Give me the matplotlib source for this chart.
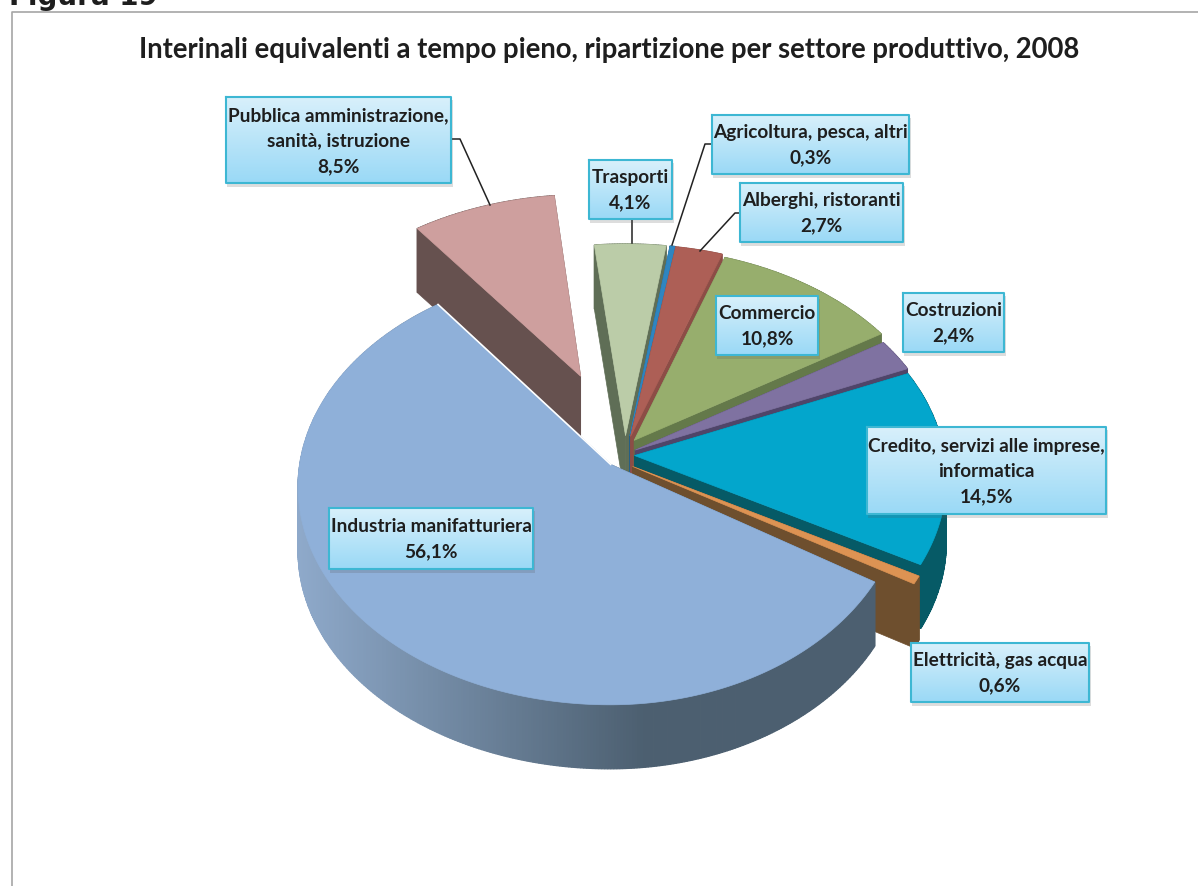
import numpy as np
import matplotlib
matplotlib.use("Agg")
import matplotlib.pyplot as plt
from matplotlib.colors import to_rgb, LinearSegmentedColormap

# Data, clockwise from the top left slice
categories = ["Pubblica amministrazione,\nsanità, istruzione", "Trasporti", "Agricoltura, pesca, altri",
              "Alberghi, ristoranti", "Commercio", "Costruzioni",
              "Credito, servizi alle imprese,\ninformatica", "Elettricità, gas acqua",
              "Industria manifatturiera"]
values = [8.5, 4.1, 0.3, 2.7, 10.8, 2.4, 14.5, 0.6, 56.1]
top_colors = ["#CE9F9E", "#BBCCA8", "#2F85C0", "#AD5F56", "#97AE6D", "#7F72A1", "#03A6CC", "#DD9353", "#8FB0D9"]
side_colors = ["#66514F", "#5F6E56", "#1F5F8C", "#8C4D46", "#64794A", "#4F4569", "#065A66", "#6E4F2E", "#4C5F70"]
title = "Interinali equivalenti a tempo pieno, ripartizione per settore produttivo, 2008"

# Pie geometry in picture pixels
cx, cy = 625, 457
rx, ry = 310, 215
persp = 0.1
depth = 64
start_angle = -37
explode = [0.42, 0.10, 0.10, 0.10, 0.10, 0.07, 0.05, 0.05, 0.04]
nudge_x = [2, 0, 0, -2, -10, -9, -6, -6, -6]
nudge_y = [0, 0, 0, 0, 0, 0, -2, 4, 1]
right_scale = [1, 1, 1, 1, 1, 1, 1, 1, 0.94]

# Label boxes: x0, y0, x1, y1
boxes = [(226, 97, 451, 183), (589, 160, 672, 219), (712, 115, 909, 174),
         (740, 183, 903, 242), (716, 296, 818, 355), (903, 293, 1004, 352),
         (867, 427, 1106, 514), (911, 643, 1089, 702), (329, 508, 533, 569)]
leaders = [([451, 460, 490], [139, 139, 205]), ([632, 632], [220, 243]),
           ([712, 705, 672], [144, 144, 245]), ([740, 735, 700], [213, 213, 251])]


def project(u, v):
    # disk coordinates to screen, the back of the pie is a bit smaller
    s = 1 + persp * v
    return rx * u / s, cy - ry * v / s


fig = plt.figure(figsize=(11.98, 8.86), dpi=100)
ax = fig.add_axes([0, 0, 1, 1])
ax.axis("off")

# Slices, painted from the back to the front
angle = start_angle
for i, val in enumerate(values):
    sweep = val * 3.6
    th = np.radians(np.linspace(angle, angle + sweep, max(int(sweep * 2), 6)))
    mid = np.radians(angle + sweep / 2)
    ou, ov = explode[i] * np.sin(mid), explode[i] * np.cos(mid)
    ax_, ay_ = project(ou, ov)
    xs, ys = project(ou + np.sin(th), ov + np.cos(th))
    xs = np.where(xs > 0, xs * right_scale[i], xs) + cx + nudge_x[i]
    ys = ys + nudge_y[i]
    ax_ = ax_ + cx + nudge_x[i]
    ay_ = ay_ + nudge_y[i]

    # radial walls
    for x_end, y_end in [(xs[0], ys[0]), (xs[-1], ys[-1])]:
        ax.fill([ax_, x_end, x_end, ax_], [ay_, y_end, y_end + depth, ay_ + depth],
                color=side_colors[i], lw=0.5, zorder=i * 3 + 1)

    # outer wall, the big slice gets the light to dark shading
    for j in range(len(xs) - 1):
        col = side_colors[i]
        if i == len(values) - 1:
            t = np.clip((xs[j] - 295) / 350, 0, 1)
            col = tuple((1 - t) * np.array(to_rgb("#8FAACB")) + t * np.array(to_rgb(side_colors[i])))
        ax.fill([xs[j], xs[j + 1], xs[j + 1], xs[j]],
                [ys[j], ys[j + 1], ys[j + 1] + depth, ys[j] + depth],
                color=col, lw=0.9, zorder=i * 3 + 2)

    ax.fill(np.r_[ax_, xs], np.r_[ay_, ys], color=top_colors[i], lw=0.5, zorder=i * 3 + 3)
    if i == len(values) - 1:
        ax.plot([xs[-1], ax_], [ys[-1], ay_], color="white", lw=1.2, zorder=i * 3 + 3)
    angle += sweep

for lx, ly in leaders:
    ax.plot(lx, ly, color="#222222", lw=1.1, zorder=40)

# Label boxes with the pale blue gradient
cmap = LinearSegmentedColormap.from_list("box", ["#D8F0FB", "#9AD9F6"])
grad = np.linspace(0, 1, 64).reshape(-1, 1)
for (x0, y0, x1, y1), name, val in zip(boxes, categories, values):
    ax.fill([x0 + 1, x1 + 2, x1 + 2, x0 + 1], [y0 + 3, y0 + 3, y1 + 4, y1 + 4],
            color="#555555", alpha=0.2, lw=0, zorder=41)
    ax.imshow(grad, extent=(x0, x1, y1, y0), cmap=cmap, aspect="auto", zorder=42)
    ax.plot([x0, x1, x1, x0, x0], [y0, y0, y1, y1, y0], color="#3DB7D3", lw=1.5, zorder=43)
    txt = name + "\n" + f"{val:.1f}%".replace(".", ",")
    ax.text((x0 + x1) / 2, (y0 + y1) / 2 + 1, txt, ha="center", va="center", family="Lato",
            weight="bold", fontsize=13.7, color="#1E1E1E", linespacing=1.6, zorder=44)

ax.set_xlim(0, 1198)
ax.set_ylim(886, 0)

# Frame and titles
ax.plot([12, 12, 1198], [886, 12, 12], color="#A6A6A6", lw=1.2, zorder=1)
ax.text(609, 50, title, ha="center", va="center", family="Lato", weight="bold", fontsize=19.8, color="#1E1E1E")
ax.text(9, 5, "Figura 19", ha="left", va="baseline", family="DejaVu Sans", weight="bold", fontsize=20, color="#1E1E1E")

fig.savefig("out.png", dpi=100)
